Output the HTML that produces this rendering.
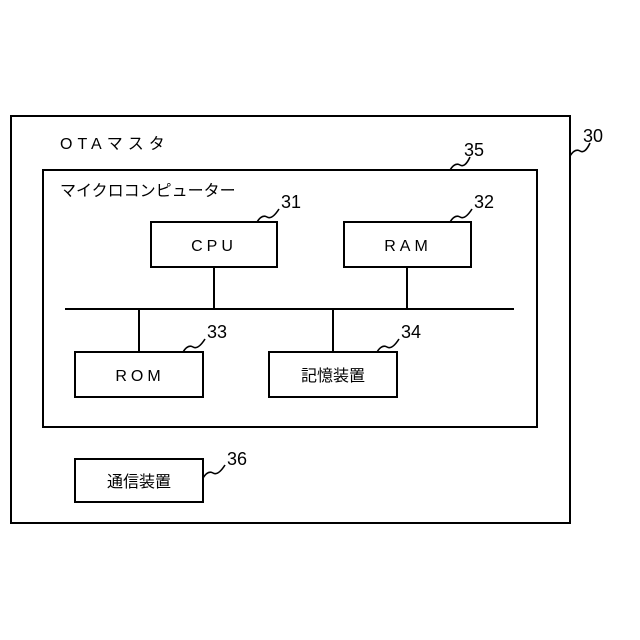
<!DOCTYPE html>
<html><head><meta charset="utf-8"><style>
html,body{margin:0;padding:0;background:#fff;}
svg{display:block;}
text{font-family:"Liberation Sans","Noto Sans CJK JP",sans-serif;fill:#000;}
</style></head><body>
<svg width="640" height="640" viewBox="0 0 640 640" xmlns="http://www.w3.org/2000/svg">
<g fill="none" stroke="#000" stroke-width="2">
<rect x="11" y="116" width="559" height="407"/>
<rect x="43" y="170" width="494" height="257"/>
<rect x="151" y="222" width="126" height="45"/>
<rect x="344" y="222" width="127" height="45"/>
<rect x="75" y="352" width="128" height="45"/>
<rect x="269" y="352" width="128" height="45"/>
<rect x="75" y="459" width="128" height="43"/>
<line x1="65" y1="309" x2="514" y2="309"/>
<line x1="214" y1="267" x2="214" y2="309"/>
<line x1="407" y1="267" x2="407" y2="309"/>
<line x1="139" y1="309" x2="139" y2="352"/>
<line x1="333" y1="309" x2="333" y2="352"/>
</g>
<g fill="none" stroke="#000" stroke-width="1.6">
<path d="M570 156 q5 -8 10 -5 t10 -8"/>
<path d="M450 170 q5 -8 10 -5 t10 -8"/>
<path d="M257 222 q5 -8 10 -5 t12 -8"/>
<path d="M450 222 q5 -8 10 -5 t12 -8"/>
<path d="M183 352 q5 -8 10 -5 t12 -8"/>
<path d="M377 352 q5 -8 10 -5 t12 -8"/>
<path d="M203 478 q5 -8 10 -5 t12 -8"/>
</g>
<text x="60" y="149" font-size="16" letter-spacing="5">OTAマスタ</text>
<text x="60" y="196" font-size="16">マイクロコンピューター</text>
<text x="214" y="251" font-size="16" text-anchor="middle" letter-spacing="4">CPU</text>
<text x="408" y="251" font-size="16" text-anchor="middle" letter-spacing="4">RAM</text>
<text x="140" y="381" font-size="16" text-anchor="middle" letter-spacing="4">ROM</text>
<text x="333" y="381" font-size="16" text-anchor="middle">記憶装置</text>
<text x="139" y="487" font-size="16" text-anchor="middle">通信装置</text>
<text x="583" y="142" font-size="18">30</text>
<text x="464" y="156" font-size="18">35</text>
<text x="281" y="208" font-size="18">31</text>
<text x="474" y="208" font-size="18">32</text>
<text x="207" y="338" font-size="18">33</text>
<text x="401" y="338" font-size="18">34</text>
<text x="227" y="465" font-size="18">36</text>
</svg>
</body></html>
